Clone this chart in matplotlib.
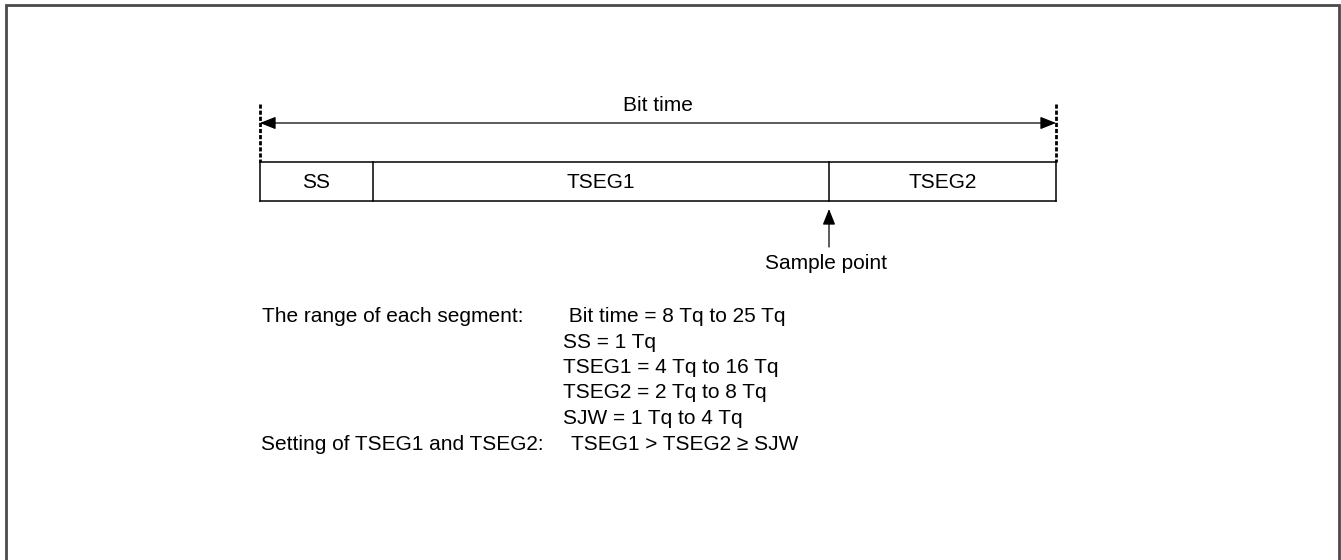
import matplotlib.pyplot as plt
from matplotlib.patches import FancyArrowPatch

plt.rcParams['font.family'] = ['Liberation Sans', 'DejaVu Sans']
plt.rcParams['font.size'] = 15

# segments of the bit, left to right
seg_names = ['SS', 'TSEG1', 'TSEG2']
seg_edges = [260, 373, 829, 1056]
sample_x = 829

range_title = 'The range of each segment:'
range_lines = [' Bit time = 8 Tq to 25 Tq', 'SS = 1 Tq', 'TSEG1 = 4 Tq to 16 Tq',
               'TSEG2 = 2 Tq to 8 Tq', 'SJW = 1 Tq to 4 Tq']
setting_title = 'Setting of TSEG1 and TSEG2:'
setting_text = 'TSEG1 > TSEG2 \u2265 SJW'

fig = plt.figure(figsize=(13.41, 5.6), dpi=100)
ax = fig.add_axes([0, 0, 1, 1])
ax.set_xlim(0, 1341)
ax.set_ylim(560, 0)
ax.axis('off')

# outer frame (no bottom edge)
ax.plot([6.5, 6.5, 1339, 1339], [560, 5, 5, 560], color='#4a4a4a', lw=2, solid_joinstyle='miter')

# segment boxes
box_top, box_bot = 162, 201
ax.plot([seg_edges[0], seg_edges[-1]], [box_top, box_top], color='black', lw=1.1)
ax.plot([seg_edges[0], seg_edges[-1]], [box_bot, box_bot], color='black', lw=1.1)
for x in seg_edges:
    ax.plot([x, x], [box_top, box_bot], color='black', lw=1.1)
for i, name in enumerate(seg_names):
    ax.text((seg_edges[i] + seg_edges[i + 1]) / 2, 182, name, ha='center', va='center')

# bit time arrow with dashed limits
for x in [seg_edges[0], seg_edges[-1]]:
    ax.plot([x, x], [104, box_top], color='black', lw=2, ls=(0, (1.5, 0.7)))
ax.add_patch(FancyArrowPatch((seg_edges[0], 123), (seg_edges[-1], 123),
                             arrowstyle='<|-|>,head_length=0.8,head_width=0.32',
                             mutation_scale=12, color='black', lw=0.9,
                             shrinkA=0, shrinkB=0))
ax.text((seg_edges[0] + seg_edges[-1]) / 2, 111, 'Bit time', ha='center', va='baseline')

# sample point
ax.add_patch(FancyArrowPatch((sample_x, 247), (sample_x, 209),
                             arrowstyle='-|>,head_length=0.8,head_width=0.32',
                             mutation_scale=12, color='black', lw=0.9,
                             shrinkA=0, shrinkB=0))
ax.text(826, 269, 'Sample point', ha='center', va='baseline')

# ranges
ax.text(262, 322, range_title, va='baseline')
for i, line in enumerate(range_lines):
    ax.text(563, 322 + i * 25.5, line, va='baseline')
ax.text(261, 450, setting_title, va='baseline')
ax.text(571, 450, setting_text, va='baseline')

fig.savefig('out.png', dpi=100)
